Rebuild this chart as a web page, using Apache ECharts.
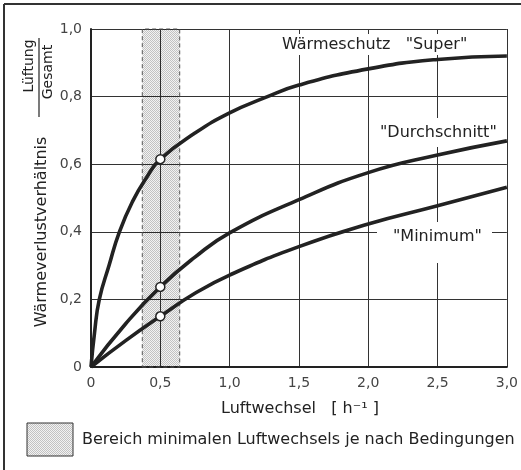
<!DOCTYPE html>
<html>
<head>
<meta charset="utf-8">
<script src="https://cdn.jsdelivr.net/npm/echarts@6/dist/echarts.min.js"></script>
<style>
html,body{margin:0;padding:0;background:#fff;}
#chart{width:521px;height:470px;}
</style>
</head>
<body>
<div id="chart"></div>
<script>
// ---- data ----
var superX   = [0, 0.025, 0.06, 0.13, 0.205, 0.30, 0.40, 0.50, 0.75, 1.0, 1.25, 1.5, 2.0, 2.5, 3.0];
var superY   = [0, 0.10, 0.20, 0.30, 0.40, 0.49, 0.56, 0.615, 0.692, 0.752, 0.796, 0.834, 0.882, 0.910, 0.920];
var durchX   = [0, 0.25, 0.50, 0.75, 1.0, 1.5, 2.0, 2.5, 3.0];
var durchY   = [0, 0.128, 0.237, 0.325, 0.397, 0.495, 0.575, 0.627, 0.669];
var minX     = [0, 0.25, 0.50, 0.75, 1.0, 1.5, 2.0, 2.5, 3.0];
var minY     = [0, 0.078, 0.150, 0.218, 0.272, 0.356, 0.423, 0.477, 0.532];
var markerX  = [0.5, 0.5, 0.5];
var markerY  = [0.615, 0.237, 0.150];
var bandRange = [0.37, 0.64];
var curveLabels = ['Wärmeschutz   "Super"', '"Durchschnitt"', '"Minimum"'];
var legendText = 'Bereich minimalen Luftwechsels je nach Bedingungen';
var xTitle = 'Luftwechsel   [ h⁻¹ ]';
var yTitle = 'Wärmeverlustverhältnis';
var fracTop = 'Lüftung', fracBottom = 'Gesamt';

function pairs(xs, ys){ return xs.map(function(x,i){ return [x, ys[i]]; }); }
function fmt(v){ return v === 0 ? '0' : v.toFixed(1).replace('.', ','); }

// stipple pattern
var pc = document.createElement('canvas');
pc.width = 2; pc.height = 2;
var pctx = pc.getContext('2d');
pctx.fillStyle = 'rgba(0,0,0,0.05)'; pctx.fillRect(0,0,2,2);
pctx.clearRect(0,0,1,1); pctx.clearRect(1,1,1,1);
pctx.fillStyle = 'rgba(0,0,0,0.24)'; pctx.fillRect(0,0,1,1);
pctx.fillStyle = 'rgba(0,0,0,0.24)'; pctx.fillRect(1,1,1,1);
var pattern = {image: pc, repeat: 'repeat'};

var FONT = 'DejaVu Sans';
var ink = '#222';

var chart = echarts.init(document.getElementById('chart'), null, {renderer: 'canvas'});
var lineCommon = {
  type: 'line', showSymbol: false, smooth: 0.5,
  lineStyle: {color: ink, width: 3.6}, z: 3, silent: true
};
chart.setOption({
  animation: false,
  backgroundColor: '#fff',
  grid: {left: 91, right: 10, top: 29, bottom: 103},
  xAxis: {
    type: 'value', min: 0, max: 3, interval: 0.5,
    axisLine: {lineStyle: {color: ink, width: 2}},
    axisTick: {show: false},
    splitLine: {lineStyle: {color: '#333', width: 1}},
    axisLabel: {formatter: fmt, color: '#444', fontSize: 14, fontFamily: FONT, margin: 9}
  },
  yAxis: {
    type: 'value', min: 0, max: 1, interval: 0.2,
    axisLine: {lineStyle: {color: ink, width: 2}},
    axisTick: {show: false},
    splitLine: {lineStyle: {color: '#333', width: 1}},
    axisLabel: {formatter: fmt, color: '#444', fontSize: 14, fontFamily: FONT, margin: 9}
  },
  series: [
    {type: 'line', data: [], z: 1, silent: true,
     markArea: {silent: true,
       itemStyle: {color: pattern, borderColor: '#555', borderWidth: 1, borderType: [4, 3]},
       data: [[{xAxis: bandRange[0]}, {xAxis: bandRange[1]}]]}},
    Object.assign({name: 'Super', data: pairs(superX, superY)}, lineCommon),
    Object.assign({name: 'Durchschnitt', data: pairs(durchX, durchY)}, lineCommon),
    Object.assign({name: 'Minimum', data: pairs(minX, minY)}, lineCommon),
    {type: 'scatter', data: pairs(markerX, markerY), symbol: 'circle', symbolSize: 9, z: 5,
     itemStyle: {color: '#fff', borderColor: ink, borderWidth: 1.5, opacity: 1}, silent: true}
  ],
  graphic: [
    // frame
    {type: 'line', shape: {x1: 4, y1: 4, x2: 521, y2: 4}, style: {stroke: '#333', lineWidth: 2}},
    {type: 'line', shape: {x1: 4, y1: 4, x2: 4, y2: 470}, style: {stroke: '#333', lineWidth: 2}},
    // label boxes (under the curves, over the grid)
    {type: 'rect', z: 1, shape: {x: 278, y: 34, width: 200, height: 21}, style: {fill: '#fff'}},
    {type: 'rect', z: 1, shape: {x: 376, y: 118, width: 126, height: 29}, style: {fill: '#fff'}},
    {type: 'rect', z: 1, shape: {x: 377, y: 222, width: 115, height: 41}, style: {fill: '#fff'}},
    {type: 'text', z: 4, x: 282, y: 45, style: {text: curveLabels[0], font: '16px "DejaVu Sans"', fill: ink, textVerticalAlign: 'middle'}},
    {type: 'text', z: 4, x: 380, y: 133, style: {text: curveLabels[1], font: '16px "DejaVu Sans"', fill: ink, textVerticalAlign: 'middle'}},
    {type: 'text', z: 4, x: 393, y: 237, style: {text: curveLabels[2], font: '16px "DejaVu Sans"', fill: ink, textVerticalAlign: 'middle'}},
    // axis titles
    {type: 'text', x: 300, y: 409, style: {text: xTitle, font: '16px "DejaVu Sans"', fill: ink, textAlign: 'center', textVerticalAlign: 'middle'}},
    {type: 'text', x: 42, y: 232, rotation: Math.PI/2, style: {text: yTitle, font: '16px "DejaVu Sans"', fill: ink, textAlign: 'center', textVerticalAlign: 'middle'}},
    {type: 'text', x: 29, y: 66, rotation: Math.PI/2, style: {text: fracTop, font: '14px "DejaVu Sans"', fill: ink, textAlign: 'center', textVerticalAlign: 'middle'}},
    {type: 'text', x: 48, y: 72, rotation: Math.PI/2, style: {text: fracBottom, font: '14px "DejaVu Sans"', fill: ink, textAlign: 'center', textVerticalAlign: 'middle'}},
    {type: 'line', shape: {x1: 39, y1: 38, x2: 39, y2: 117}, style: {stroke: ink, lineWidth: 1.2}},
    // legend
    {type: 'rect', shape: {x: 27, y: 423, width: 46, height: 33}, style: {fill: pattern, stroke: '#333', lineWidth: 1}},
    {type: 'text', x: 82, y: 440, style: {text: legendText, font: '16px "DejaVu Sans"', fill: ink, textVerticalAlign: 'middle'}}
  ]
});
</script>
</body>
</html>
